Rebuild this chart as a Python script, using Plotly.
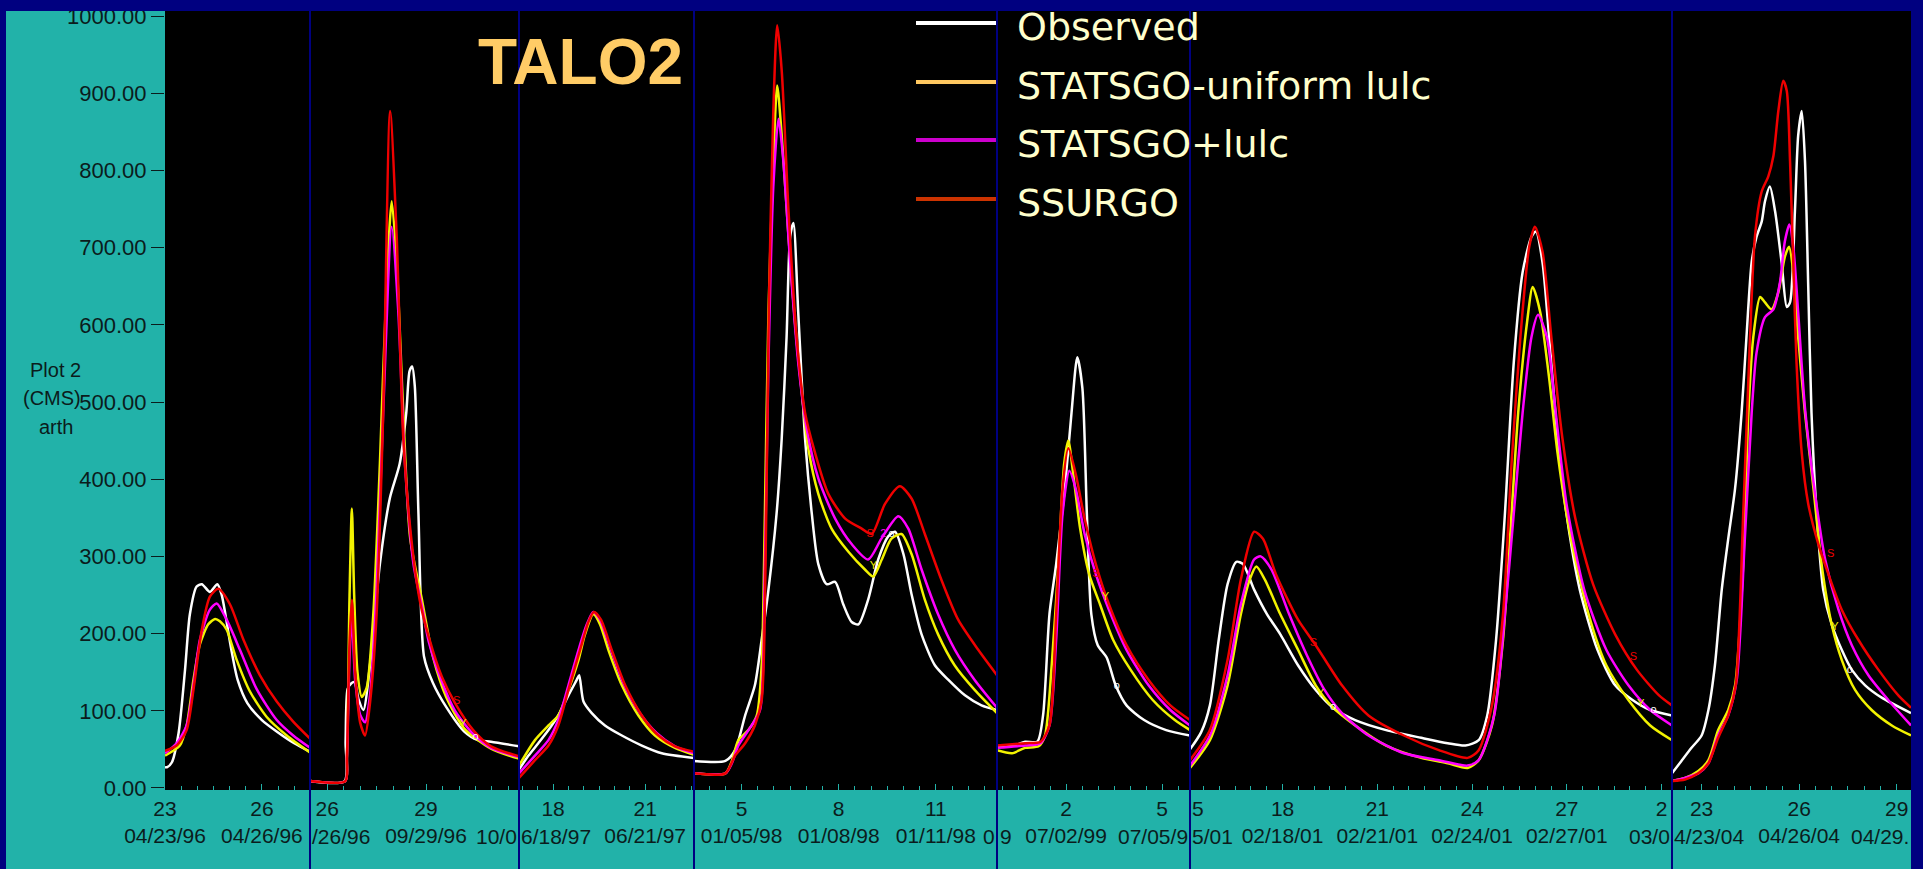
import pandas as pd
import plotly.graph_objects as go

# ---------------- data (day offsets from each panel's base date, discharge in CMS) ----------------
PANEL_BASE = ['1996-04-23', '1996-09-26', '1997-06-18', '1998-01-05',
              '1999-07-02', '2001-02-18', '2004-04-23']
PANEL_DAYS = [(0.0, 4.49), (-0.52, 5.82), (-1.11, 4.59), (-1.47, 7.89),
              (-2.16, 3.875), (-2.93, 12.33), (-0.91, 6.44)]

SERIES_NAMES = ['Observed', 'STATSGO-uniform lulc', 'STATSGO+lulc', 'SSURGO']

# Panel 1: April 1996
P1_OBS = [(0.0, 27), (0.07, 27), (0.21, 33), (0.42, 71), (0.62, 153), (0.77, 225), (0.98, 261), (1.14, 264),
          (1.39, 254), (1.62, 264), (1.75, 251), (1.87, 225), (2.05, 180), (2.25, 140), (2.55, 110), (3.0, 88),
          (3.5, 72), (4.0, 58), (4.49, 47)]
P1_UNI = [(0.0, 42), (0.46, 55), (0.67, 81), (0.88, 140), (1.08, 186), (1.34, 212), (1.55, 219), (1.7, 216),
          (1.91, 205), (2.22, 166), (2.63, 125), (3.15, 92), (3.77, 68), (4.49, 46)]
P1_LULC = [(0.0, 45), (0.36, 58), (0.67, 81), (0.88, 133), (1.08, 192), (1.39, 231), (1.6, 239), (1.91, 218),
           (2.32, 179), (2.84, 128), (3.46, 88), (3.97, 68), (4.49, 52)]
P1_SSURGO = [(0.0, 48), (0.36, 55), (0.67, 75), (0.88, 127), (1.14, 205), (1.39, 248), (1.65, 258), (2.01, 238),
             (2.43, 192), (2.94, 146), (3.46, 112), (3.97, 86), (4.49, 64)]

# Panel 2: September 1996
P2_OBS = [(-0.52, 9), (0.53, 9), (0.56, 60), (0.62, 128), (0.72, 135), (0.83, 137), (0.95, 115), (1.1, 101),
          (1.3, 159), (1.6, 290), (1.9, 375), (2.2, 420), (2.4, 486), (2.5, 540), (2.58, 546), (2.66, 520),
          (2.77, 355), (2.94, 170), (3.21, 136), (3.61, 105), (4.16, 73), (4.57, 62), (4.97, 60), (5.82, 54)]
P2_UNI = [(-0.52, 9), (0.55, 9), (0.6, 40), (0.68, 250), (0.75, 362), (0.82, 250), (0.92, 150), (1.05, 118),
          (1.2, 130), (1.4, 225), (1.6, 420), (1.8, 649), (1.96, 760), (2.11, 681), (2.31, 486), (2.52, 323),
          (2.88, 243), (3.21, 170), (3.61, 118), (4.16, 77), (4.97, 51), (5.82, 38)]
P2_LULC = [(-0.52, 9), (0.55, 9), (0.6, 40), (0.68, 170), (0.75, 222), (0.85, 140), (1.0, 95), (1.15, 85),
           (1.3, 120), (1.5, 257), (1.7, 486), (1.96, 727), (2.16, 616), (2.36, 420), (2.62, 290), (2.9, 230),
           (3.08, 190), (3.48, 138), (3.88, 100), (4.43, 70), (4.97, 52), (5.82, 40)]
P2_SSURGO = [(-0.52, 9), (0.55, 9), (0.6, 40), (0.68, 190), (0.75, 244), (0.85, 150), (1.0, 85), (1.15, 68),
             (1.3, 110), (1.5, 225), (1.7, 486), (1.91, 877), (2.11, 714), (2.31, 453), (2.56, 320), (2.81, 243),
             (3.08, 196), (3.48, 144), (3.88, 110), (4.43, 75), (4.97, 54), (5.82, 41)]

# Panel 3: June 1997
P3_OBS = [(-1.11, 24), (-0.8, 42), (-0.48, 58), (-0.15, 75), (0.17, 94), (0.5, 120), (0.77, 140), (0.85, 146),
          (0.99, 112), (1.26, 97), (1.69, 81), (2.24, 68), (2.89, 55), (3.54, 45), (4.59, 39)]
P3_UNI = [(-1.11, 29), (-0.59, 62), (-0.15, 81), (0.17, 94), (0.5, 127), (0.83, 166), (1.04, 199), (1.31, 225),
          (1.53, 212), (1.8, 179), (2.24, 133), (2.78, 94), (3.32, 68), (3.97, 52), (4.59, 43)]
P3_LULC = [(-1.11, 19), (-0.59, 42), (-0.15, 62), (0.17, 88), (0.5, 133), (0.83, 179), (1.1, 212), (1.31, 228),
           (1.53, 218), (1.86, 182), (2.29, 136), (2.83, 97), (3.38, 71), (3.97, 54), (4.59, 45)]
P3_SSURGO = [(-1.11, 13), (-0.59, 36), (-0.15, 55), (0.17, 81), (0.5, 127), (0.88, 179), (1.15, 215), (1.33, 228),
             (1.56, 218), (1.91, 179), (2.35, 133), (2.89, 94), (3.43, 68), (3.97, 54), (4.59, 47)]

# Panel 4: January 1998
P4_OBS = [(-1.47, 35), (-0.5, 35), (-0.2, 49), (0.11, 94), (0.41, 133), (0.62, 192), (0.83, 257), (1.08, 355),
          (1.24, 453), (1.39, 584), (1.5, 714), (1.6, 732), (1.75, 616), (1.96, 453), (2.17, 355), (2.37, 290),
          (2.63, 264), (2.89, 267), (3.14, 238), (3.4, 215), (3.61, 212), (3.91, 244), (4.22, 296), (4.53, 326),
          (4.74, 332), (5.0, 303), (5.25, 251), (5.56, 199), (5.97, 159), (6.39, 140), (6.9, 120), (7.41, 107),
          (7.89, 101)]
P4_UNI = [(-1.47, 19), (-0.5, 19), (-0.3, 35), (-0.1, 62), (0.21, 75), (0.47, 94), (0.62, 159), (0.72, 355),
          (0.83, 616), (0.98, 812), (1.1, 910), (1.24, 845), (1.45, 714), (1.65, 603), (1.86, 512), (2.06, 440),
          (2.37, 381), (2.78, 336), (3.3, 306), (3.81, 283), (4.07, 274), (4.33, 296), (4.63, 323), (4.94, 329),
          (5.25, 303), (5.66, 244), (6.07, 199), (6.58, 159), (7.2, 127), (7.89, 97)]
P4_LULC = [(-1.47, 19), (-0.5, 19), (-0.3, 32), (-0.1, 55), (0.31, 81), (0.57, 101), (0.72, 290), (0.83, 551),
           (0.98, 779), (1.14, 867), (1.29, 812), (1.5, 681), (1.75, 551), (2.01, 466), (2.37, 401), (2.89, 349),
           (3.4, 316), (3.91, 296), (4.32, 323), (4.84, 352), (5.15, 336), (5.56, 283), (6.07, 225), (6.59, 179),
           (7.2, 140), (7.89, 104)]
P4_SSURGO = [(-1.47, 19), (-0.5, 19), (-0.2, 42), (0.11, 58), (0.41, 81), (0.62, 114), (0.74, 290), (0.84, 616),
             (0.98, 877), (1.1, 988), (1.24, 929), (1.45, 747), (1.7, 584), (1.96, 486), (2.27, 434), (2.68, 381),
             (3.2, 349), (3.71, 336), (4.02, 329), (4.43, 368), (4.89, 391), (5.25, 375), (5.66, 329), (6.17, 270),
             (6.69, 218), (7.31, 179), (7.89, 146)]

# Panel 5: July 1999
P5_OBS = [(-2.16, 54), (-1.55, 56), (-1.28, 60), (-0.9, 60), (-0.72, 94), (-0.52, 225), (-0.31, 290), (-0.04, 388),
          (0.17, 486), (0.35, 558), (0.51, 518), (0.65, 355), (0.79, 225), (0.99, 185), (1.27, 169), (1.55, 133),
          (1.89, 107), (2.44, 88), (3.13, 75), (3.875, 68)]
P5_UNI = [(-2.16, 49), (-1.69, 45), (-1.28, 52), (-0.86, 54), (-0.66, 68), (-0.45, 159), (-0.24, 290), (-0.06, 420),
          (0.07, 450), (0.24, 401), (0.44, 336), (0.72, 277), (1.06, 238), (1.47, 192), (2.02, 153), (2.71, 114),
          (3.4, 88), (3.875, 75)]
P5_LULC = [(-2.16, 52), (-1.28, 55), (-0.8, 58), (-0.52, 81), (-0.31, 192), (-0.11, 355), (0.1, 411), (0.3, 388),
           (0.58, 329), (0.93, 277), (1.34, 231), (1.89, 179), (2.58, 133), (3.26, 101), (3.875, 81)]
P5_SSURGO = [(-2.16, 55), (-1.28, 58), (-0.8, 60), (-0.52, 81), (-0.31, 225), (-0.11, 388), (0.07, 440), (0.3, 407),
             (0.58, 349), (0.93, 290), (1.34, 238), (1.89, 185), (2.58, 140), (3.26, 107), (3.875, 88)]

# Panel 6: February 2001
P6_OBS = [(-2.93, 50), (-2.58, 72), (-2.3, 107), (-2.02, 192), (-1.74, 264), (-1.46, 293), (-1.25, 290),
          (-0.9, 257), (-0.49, 225), (-0.07, 199), (0.49, 159), (1.05, 127), (1.6, 104), (2.3, 88), (3.28, 75),
          (4.39, 65), (5.23, 58), (5.79, 55), (6.21, 62), (6.48, 94), (6.76, 192), (7.04, 355), (7.32, 551),
          (7.6, 668), (7.88, 714), (8.02, 721), (8.23, 681), (8.44, 584), (8.71, 453), (8.99, 355), (9.41, 257),
          (9.97, 179), (10.53, 133), (11.08, 114), (11.64, 101), (12.33, 94)]
P6_UNI = [(-2.93, 26), (-2.3, 62), (-1.74, 133), (-1.32, 225), (-1.04, 270), (-0.83, 287), (-0.56, 270),
          (-0.07, 225), (0.49, 179), (1.05, 133), (1.6, 104), (2.3, 81), (3.28, 55), (4.39, 39), (5.23, 32),
          (5.86, 26), (6.21, 36), (6.63, 81), (6.98, 192), (7.25, 355), (7.46, 486), (7.74, 603), (7.92, 649),
          (8.16, 616), (8.44, 531), (8.71, 433), (9.13, 323), (9.69, 225), (10.25, 159), (10.95, 114),
          (11.64, 81), (12.33, 62)]
P6_LULC = [(-2.93, 29), (-2.3, 68), (-1.74, 146), (-1.32, 238), (-0.9, 296), (-0.69, 300), (-0.35, 283),
           (0.21, 225), (0.77, 172), (1.33, 127), (1.88, 97), (2.72, 68), (3.84, 45), (4.95, 36), (5.86, 29),
           (6.21, 36), (6.7, 94), (7.04, 225), (7.32, 355), (7.6, 486), (7.88, 584), (8.09, 613), (8.37, 584),
           (8.65, 486), (8.99, 368), (9.55, 257), (10.25, 179), (10.95, 133), (11.64, 101), (12.33, 81)]
P6_SSURGO = [(-2.93, 36), (-2.3, 75), (-1.74, 166), (-1.32, 270), (-0.9, 332), (-0.62, 323), (-0.21, 277),
             (0.49, 218), (1.05, 185), (1.88, 133), (2.72, 94), (3.84, 68), (4.95, 49), (5.86, 39), (6.21, 49),
             (6.63, 107), (6.98, 225), (7.25, 420), (7.53, 584), (7.81, 701), (7.99, 727), (8.23, 695),
             (8.51, 584), (8.86, 453), (9.27, 349), (9.83, 264), (10.53, 199), (11.22, 153), (11.92, 120),
             (12.33, 107)]

# Panel 7: April 2004
P7_OBS = [(-0.91, 19), (-0.62, 35), (-0.31, 52), (0.0, 68), (0.21, 101), (0.41, 159), (0.62, 257), (0.82, 323),
          (1.03, 388), (1.23, 486), (1.38, 584), (1.54, 681), (1.69, 714), (1.85, 734), (1.95, 760), (2.1, 779),
          (2.26, 747), (2.46, 681), (2.62, 623), (2.72, 629), (2.87, 747), (2.97, 845), (3.08, 877), (3.18, 812),
          (3.28, 649), (3.38, 486), (3.54, 355), (3.74, 257), (4.0, 212), (4.31, 179), (4.62, 153), (5.03, 133),
          (5.54, 117), (6.44, 97)]
P7_UNI = [(-0.91, 9), (-0.51, 13), (-0.1, 22), (0.21, 36), (0.51, 75), (0.82, 101), (1.03, 133), (1.28, 290),
          (1.44, 486), (1.59, 584), (1.8, 636), (1.95, 629), (2.15, 620), (2.36, 642), (2.56, 688), (2.69, 701),
          (2.82, 668), (2.97, 584), (3.18, 486), (3.44, 388), (3.69, 290), (4.0, 212), (4.31, 166), (4.72, 127),
          (5.23, 101), (5.85, 81), (6.44, 68)]
P7_LULC = [(-0.91, 9), (-0.51, 13), (-0.1, 19), (0.21, 32), (0.51, 68), (0.82, 94), (1.08, 140), (1.33, 323),
           (1.54, 486), (1.69, 564), (1.95, 610), (2.21, 620), (2.41, 655), (2.56, 708), (2.7, 730), (2.82, 701),
           (2.97, 616), (3.18, 492), (3.49, 381), (3.8, 296), (4.21, 231), (4.62, 185), (5.13, 146), (5.74, 114),
           (6.44, 81)]
P7_SSURGO = [(-0.91, 9), (-0.51, 11), (-0.1, 19), (0.21, 32), (0.51, 65), (0.82, 94), (1.05, 133), (1.28, 355),
             (1.49, 584), (1.64, 714), (1.85, 773), (2.05, 792), (2.21, 819), (2.36, 877), (2.51, 916), (2.62, 903),
             (2.72, 812), (2.82, 681), (2.92, 551), (3.08, 434), (3.28, 368), (3.59, 316), (3.9, 277), (4.31, 231),
             (4.82, 192), (5.44, 153), (6.05, 120), (6.44, 104)]

PANEL_SERIES = [
    [P1_OBS, P1_UNI, P1_LULC, P1_SSURGO],
    [P2_OBS, P2_UNI, P2_LULC, P2_SSURGO],
    [P3_OBS, P3_UNI, P3_LULC, P3_SSURGO],
    [P4_OBS, P4_UNI, P4_LULC, P4_SSURGO],
    [P5_OBS, P5_UNI, P5_LULC, P5_SSURGO],
    [P6_OBS, P6_UNI, P6_LULC, P6_SSURGO],
    [P7_OBS, P7_UNI, P7_LULC, P7_SSURGO],
]

# small series markers drawn by the original software: (panel, day, value, letter, series index)
CURVE_MARKS = [
    (1, 3.93, 112, 'S', 3), (1, 4.12, 82, 'Y', 1), (1, 4.5, 66, 'o', 0),
    (3, 3.97, 329, 'S', 3), (3, 4.07, 287, 'Y', 1), (3, 4.38, 329, '2', 2), (3, 4.63, 329, 'o', 0),
    (4, 0.93, 277, 'S', 3), (4, 1.23, 247, 'Y', 1), (4, 1.59, 132, 'o', 0),
    (5, 0.98, 187, 'S', 3), (5, 1.19, 122, 'Y', 1), (5, 1.6, 104, 'o', 0),
    (5, 11.11, 169, 'S', 3), (5, 11.34, 109, 'Y', 1), (5, 11.75, 101, 'o', 0),
    (6, 3.97, 303, 'S', 3), (6, 4.1, 208, 'Y', 1), (6, 4.56, 153, 'o', 0),
]

# x tick dates per panel (labels: day number / mm/dd/yy)
TICK_DATES = [['1996-04-23', '1996-04-26'],
              ['1996-09-26', '1996-09-29'],
              ['1997-06-18', '1997-06-21'],
              ['1998-01-05', '1998-01-08', '1998-01-11'],
              ['1999-07-02', '1999-07-05'],
              ['2001-02-18', '2001-02-21', '2001-02-24', '2001-02-27', '2001-03-02'],
              ['2004-04-23', '2004-04-26', '2004-04-29']]
# dates whose second-row label is clipped by the panel edge
CLIPPED_ROW2 = {'1996-09-26', '1997-06-18', '1999-07-05', '2001-03-02', '2004-04-23', '2004-04-29'}
# visible fragments of clipped labels: (text, row, x pixel, anchor)
LABEL_FRAGMENTS = [('/26/96', 2, 310, 'left'), ('10/0', 2, 519, 'right'), ('6/18/97', 2, 519, 'left'),
                   ('0', 2, 997, 'right'), ('9', 2, 998, 'left'), ('07/05/9', 2, 1190, 'right'),
                   ('5', 1, 1190, 'left'), ('5/01', 2, 1190, 'left'), ('03/0', 2, 1672, 'right'),
                   ('4/23/04', 2, 1672, 'left'), ('04/29.', 2, 1911, 'right')]

Y_TICKS = [0, 100, 200, 300, 400, 500, 600, 700, 800, 900, 1000]
Y_AXIS_LABEL = ['Plot 2', '(CMS)', 'arth']
TITLE = 'TALO2'

# ---------------- styling ----------------
W, H = 1923, 869
PANEL_EDGES = [165, 310, 519, 694, 997, 1190, 1672, 1911]
PLOT_TOP, PLOT_BOTTOM = 11, 790
TEAL = '#22B2A9'
NAVY = '#000080'
INK = '#0b1c1c'
CURVE_COLORS = ['#FFFFFF', '#F2F200', '#FF00FF', '#F00000']
LEGEND_COLORS = ['#FFFFFF', '#FFC860', '#CC00CC', '#CC3300']
TICK_FONT = dict(family='Liberation Sans, Arial, sans-serif', size=21, color=INK)


def px(x):
    return x / W


def py(y):
    return 1 - y / H


def to_dates(base, days):
    return [pd.Timestamp(base) + pd.to_timedelta(d, unit='D') for d in days]


fig = go.Figure()

for k in range(7):
    xa = 'x' if k == 0 else f'x{k + 1}'
    for s in range(4):
        pts = PANEL_SERIES[k][s]
        days = [p[0] for p in pts]
        vals = [p[1] for p in pts]
        fig.add_trace(go.Scatter(
            x=to_dates(PANEL_BASE[k], days), y=vals, mode='lines',
            line=dict(color=CURVE_COLORS[s], width=2.5, shape='spline', smoothing=0.7),
            xaxis=xa, yaxis='y', name=SERIES_NAMES[s], showlegend=False, hoverinfo='skip'))

for (k, d, v, letter, s) in CURVE_MARKS:
    xa = 'x' if k == 0 else f'x{k + 1}'
    fig.add_trace(go.Scatter(
        x=to_dates(PANEL_BASE[k], [d]), y=[v], mode='text', text=[letter],
        textfont=dict(family='Liberation Sans, Arial', size=11, color=CURVE_COLORS[s]),
        xaxis=xa, yaxis='y', showlegend=False, hoverinfo='skip'))

layout = dict(
    width=W, height=H, margin=dict(l=0, r=0, t=0, b=0, pad=0), autosize=False,
    paper_bgcolor=TEAL, plot_bgcolor='black', showlegend=False,
    yaxis=dict(domain=[py(PLOT_BOTTOM), py(PLOT_TOP)], range=[-2.6, 1006.5], anchor='x',
               tickvals=Y_TICKS, ticktext=[f'{v:.2f}' for v in Y_TICKS], automargin=False,
               ticks='outside', ticklen=13, tickwidth=1, tickcolor=INK, tickfont=dict(
                   family='Liberation Sans, Arial, sans-serif', size=22, color=INK),
               showgrid=False, zeroline=False, showline=False, fixedrange=True),
)

for k in range(7):
    key = 'xaxis' if k == 0 else f'xaxis{k + 1}'
    d0, d1 = PANEL_DAYS[k]
    rng = to_dates(PANEL_BASE[k], [d0, d1])
    texts = []
    for t in TICK_DATES[k]:
        ts = pd.Timestamp(t)
        row1 = str(ts.day)
        row2 = ' ' if t in CLIPPED_ROW2 else ts.strftime('%m/%d/%y')
        texts.append(f'{row1}<br>{row2}')
    layout[key] = dict(
        domain=[px(PANEL_EDGES[k]), px(PANEL_EDGES[k + 1])], anchor='y', type='date',
        range=rng, tickvals=TICK_DATES[k], ticktext=texts, tickangle=0, automargin=False,
        ticks='inside', ticklen=6, tickcolor=TEAL, tickwidth=1,
        minor=dict(ticks='inside', ticklen=4, tickcolor=TEAL, dtick=43200000, tick0='1990-01-01', showgrid=False),
        tickfont=TICK_FONT, ticklabelstandoff=4,
        showgrid=False, zeroline=False, showline=False, fixedrange=True)

fig.update_layout(**layout)

shapes = []
# navy frame
shapes.append(dict(type='rect', xref='paper', yref='paper', x0=0, x1=1, y0=py(PLOT_TOP), y1=1,
                   fillcolor=NAVY, line=dict(width=0), layer='above'))
shapes.append(dict(type='rect', xref='paper', yref='paper', x0=0, x1=px(6), y0=0, y1=1,
                   fillcolor=NAVY, line=dict(width=0), layer='above'))
shapes.append(dict(type='rect', xref='paper', yref='paper', x0=px(1911), x1=1, y0=0, y1=1,
                   fillcolor=NAVY, line=dict(width=0), layer='above'))
# panel separators
for e in PANEL_EDGES[1:-1]:
    shapes.append(dict(type='line', xref='paper', yref='paper', x0=px(e), x1=px(e), y0=0, y1=py(PLOT_TOP),
                       line=dict(color=NAVY, width=2), layer='above'))
# legend samples
LEG_Y = [23, 82, 140, 199]
for i in range(4):
    shapes.append(dict(type='line', xref='paper', yref='paper', x0=px(916), x1=px(996),
                       y0=py(LEG_Y[i]), y1=py(LEG_Y[i]), line=dict(color=LEGEND_COLORS[i], width=4),
                       layer='above'))

annotations = []
for i, name in enumerate(SERIES_NAMES):
    annotations.append(dict(xref='paper', yref='paper', x=px(1015), y=py(LEG_Y[i] + 4), text=name,
                            showarrow=False, xanchor='left', yanchor='middle',
                            font=dict(family='DejaVu Sans, Verdana, sans-serif', size=38, color='#FFFFCC')))
annotations.append(dict(xref='paper', yref='paper', x=px(580), y=py(62), text=f'<b>{TITLE}</b>',
                        showarrow=False, xanchor='center', yanchor='middle',
                        font=dict(family='Liberation Sans, Arial, sans-serif', size=64, color='#FFCC66')))
Y_LABEL_X = [55, 52, 56]
for i, t in enumerate(Y_AXIS_LABEL):
    annotations.append(dict(xref='paper', yref='paper', x=px(Y_LABEL_X[i]), y=py(370 + 28.5 * i), text=t,
                            showarrow=False, xanchor='center', yanchor='middle',
                            font=dict(family='Liberation Sans, Arial, sans-serif', size=20, color=INK)))
ROW_Y = {1: 808, 2: 836}
for (t, row, xp, anc) in LABEL_FRAGMENTS:
    annotations.append(dict(xref='paper', yref='paper', x=px(xp), y=py(ROW_Y[row]), text=t,
                            showarrow=False, xanchor=anc, yanchor='middle', font=TICK_FONT))

fig.update_layout(shapes=shapes, annotations=annotations)
fig.write_html('out.html', config={'displayModeBar': False},
               post_script="document.body.style.margin='0px';document.body.style.overflow='hidden';")
